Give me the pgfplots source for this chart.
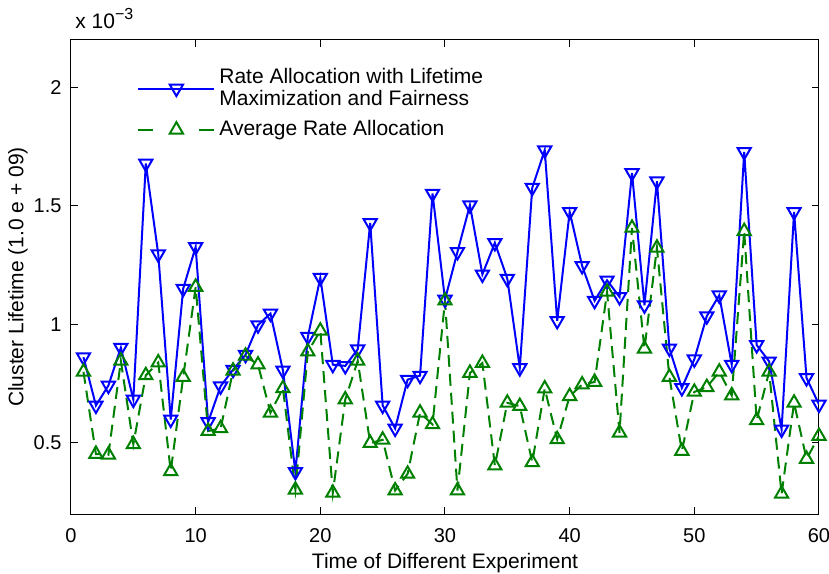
\documentclass[border=0pt]{standalone}
\usepackage{pgfplots}
\pgfplotsset{compat=1.18}
\usepackage{fontspec}
\setmainfont{Liberation Sans}
\definecolor{mblue}{rgb}{0,0,1}
\definecolor{mgreen}{rgb}{0,0.5,0}
\begin{document}
\begin{tikzpicture}[font=\fontsize{10.5}{11}\selectfont]
\path[use as bounding box] (-35.5pt,-29.5pt) rectangle (379pt,257pt);
\begin{axis}[
  name=ax,
  scale only axis,
  width=374pt, height=237pt,
  xmin=0, xmax=60, ymin=0.2, ymax=2.2,
  xtick={0,10,20,30,40,50,60},
  ytick={0.5,1,1.5,2},
  yticklabels={0.5,1,1.5,2},
  tick align=inside,
  major tick length=3.3pt,
  axis line style={line width=0.5pt},
  every tick/.style={black, line width=0.5pt},
  /pgf/number format/assume math mode=true,
  tick label style={font=\fontsize{10}{11}\selectfont},
  xticklabel style={yshift=-3.5pt},
  yticklabel style={xshift=-1.2pt},
  xlabel={Time of Different Experiment},
  ylabel={Cluster Lifetime (1.0 e + 09)},
  xlabel style={at={(axis description cs:0.5,0)}, anchor=center, yshift=-24.5pt},
  ylabel style={at={(axis description cs:-0.0709,0.5)}, anchor=center},
  legend style={draw=none, fill=none, at={(axis description cs:0,1)}, anchor=north west, xshift=30pt, yshift=-10pt, row sep=2pt},
  legend cell align=left,
  legend style={cells={align=left}},
]
\addplot[color=mblue, line width=1pt, mark=triangle, mark size=3.8pt, mark options={rotate=180, solid},
  legend image code/.code={\draw[mark repeat=2,mark phase=2] plot coordinates {(0pt,0pt) (19pt,0pt) (38pt,0pt)};}]
coordinates {
(1,0.862)(2,0.658)(3,0.742)(4,0.902)(5,0.683)(6,1.679)(7,1.296)(8,0.599)(9,1.151)(10,1.327)
(11,0.588)(12,0.739)(13,0.809)(14,0.872)(15,0.997)(16,1.046)(17,0.806)(18,0.378)(19,0.948)(20,1.197)
(21,0.830)(22,0.825)(23,0.895)(24,1.428)(25,0.658)(26,0.561)(27,0.767)(28,0.784)(29,1.552)(30,1.105)
(31,1.306)(32,1.503)(33,1.211)(34,1.344)(35,1.193)(36,0.816)(37,1.577)(38,1.735)(39,1.015)(40,1.475)
(41,1.247)(42,1.100)(43,1.186)(44,1.116)(45,1.639)(46,1.081)(47,1.604)(48,0.899)(49,0.732)(50,0.853)
(51,1.035)(52,1.123)(53,0.830)(54,1.728)(55,0.913)(56,0.844)(57,0.557)(58,1.475)(59,0.774)(60,0.662)
};
\addlegendentry{Rate Allocation with Lifetime\\Maximization and Fairness}
\addplot[color=mgreen, line width=1pt, dash pattern=on 6pt off 3.5pt, mark=triangle, mark size=3.8pt, mark options={solid},
  legend image code/.code={\draw[solid] (0pt,0pt) -- (7.5pt,0pt); \draw[solid] (30.5pt,0pt) -- (38pt,0pt); \draw[solid] plot[mark=triangle, mark size=3.8pt] coordinates {(19pt,0pt)};}]
coordinates {
(1,0.80)(2,0.453)(3,0.45)(4,0.846)(5,0.494)(6,0.785)(7,0.839)(8,0.38)(9,0.778)(10,1.158)
(11,0.55)(12,0.561)(13,0.804)(14,0.867)(15,0.83)(16,0.627)(17,0.730)(18,0.302)(19,0.885)(20,0.973)
(21,0.289)(22,0.683)(23,0.846)(24,0.499)(25,0.513)(26,0.299)(27,0.369)(28,0.627)(29,0.578)(30,1.10)
(31,0.299)(32,0.795)(33,0.837)(34,0.404)(35,0.669)(36,0.655)(37,0.418)(38,0.729)(39,0.515)(40,0.697)
(41,0.746)(42,0.757)(43,1.137)(44,0.543)(45,1.407)(46,0.897)(47,1.323)(48,0.778)(49,0.466)(50,0.715)
(51,0.735)(52,0.80)(53,0.70)(54,1.393)(55,0.595)(56,0.80)(57,0.285)(58,0.669)(59,0.432)(60,0.529)
};
\addlegendentry{Average Rate Allocation}
\end{axis}
\node[anchor=base west, inner sep=0pt] at ([xshift=2pt, yshift=5.5pt]ax.north west) {x 10\raisebox{0.9ex}{\fontsize{8}{9}\selectfont −3}};
\end{tikzpicture}
\end{document}
